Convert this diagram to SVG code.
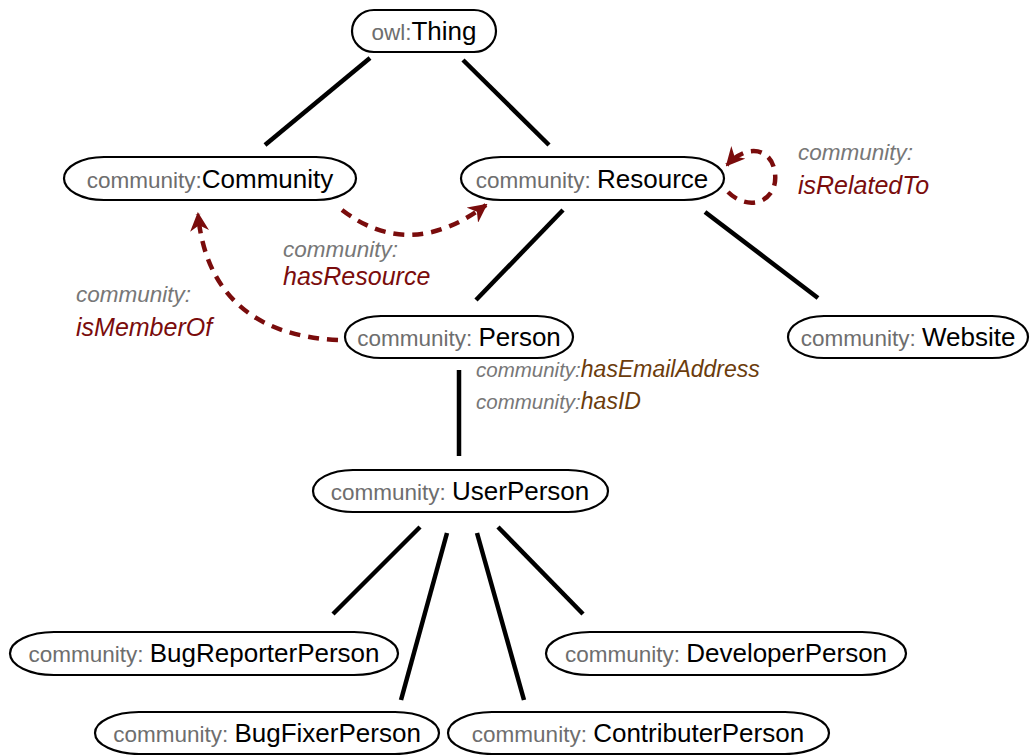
<svg xmlns="http://www.w3.org/2000/svg" width="1032" height="755" viewBox="0 0 1032 755">
<style>
.node rect{fill:#fff;stroke:#000;stroke-width:2.2}
.nt{font-family:"Liberation Sans",Arial,sans-serif;text-anchor:middle}
.pre{fill:#6e6e6e;font-size:22.5px}
.nm{fill:#000;font-size:26px}
.sub{stroke:#000;stroke-width:4.5;fill:none}
.obj{stroke:#7a0c0c;stroke-width:4.5;fill:none;stroke-dasharray:11 8}
.lp{font-family:"Liberation Sans",Arial,sans-serif;font-style:italic;fill:#777;font-size:22.5px}
.lr{font-family:"Liberation Sans",Arial,sans-serif;font-style:italic;fill:#7a0c0c;font-size:25px}
.dp{font-family:"Liberation Sans",Arial,sans-serif;font-style:italic;fill:#777;font-size:20.5px}
.dn{font-family:"Liberation Sans",Arial,sans-serif;font-style:italic;fill:#6b3c0c;font-size:23px}
</style>
<defs>
<marker id="ah" viewBox="0 0 10 10" refX="9" refY="5" markerWidth="4.2" markerHeight="4.2" orient="auto" markerUnits="strokeWidth">
<path d="M0,0 L10,5 L0,10 L3,5 z" fill="#7a0c0c"/>
</marker>
</defs>
<rect width="1032" height="755" fill="#fff"/>
<g id="connectors">
<line class="sub" x1="370" y1="58" x2="265" y2="145"/>
<line class="sub" x1="463" y1="60" x2="549" y2="145"/>
<line class="sub" x1="563" y1="210" x2="476" y2="300"/>
<line class="sub" x1="705" y1="212" x2="818" y2="298"/>
<line class="sub" x1="459" y1="370" x2="459" y2="456"/>
<line class="sub" x1="420" y1="527" x2="333" y2="614"/>
<line class="sub" x1="447" y1="533" x2="401" y2="700"/>
<line class="sub" x1="477" y1="533" x2="524" y2="700"/>
<line class="sub" x1="498" y1="527" x2="583" y2="614"/>
<path class="obj" d="M342,210 Q410,262 486,205" marker-end="url(#ah)"/>
<path class="obj" d="M338,340 C250,336 205,290 198,214" marker-end="url(#ah)"/>
<path class="obj" d="M728,192 C750,214 782,200 774,168 C768,146 744,146 727,165" marker-end="url(#ah)"/>
<text class="lp" x="798" y="160">community:</text>
<text class="lr" x="798" y="194">isRelatedTo</text>
<text class="lp" x="283" y="257">community:</text>
<text class="lr" x="283" y="285">hasResource</text>
<text class="lp" x="76" y="302">community:</text>
<text class="lr" x="76" y="336">isMemberOf</text>
<text x="476" y="377"><tspan class="dp">community:</tspan><tspan class="dn">hasEmailAddress</tspan></text>
<text x="476" y="409"><tspan class="dp">community:</tspan><tspan class="dn">hasID</tspan></text>
</g>
<g id="thing" class="node"><rect x="352" y="10" width="144" height="42" rx="22" ry="21"/><text class="nt" x="424" y="40"><tspan class="pre">owl:</tspan><tspan class="nm">Thing</tspan></text></g>
<g id="community" class="node"><rect x="64" y="157" width="292" height="43" rx="40" ry="21.5"/><text class="nt" x="210" y="188"><tspan class="pre">community:</tspan><tspan class="nm">Community</tspan></text></g>
<g id="resource" class="node"><rect x="461" y="157" width="263" height="43" rx="40" ry="21.5"/><text class="nt" x="592" y="188"><tspan class="pre">community: </tspan><tspan class="nm">Resource</tspan></text></g>
<g id="person" class="node"><rect x="345" y="316" width="228" height="42" rx="36" ry="21"/><text class="nt" x="459" y="346"><tspan class="pre">community: </tspan><tspan class="nm">Person</tspan></text></g>
<g id="website" class="node"><rect x="788" y="316" width="240" height="42" rx="36" ry="21"/><text class="nt" x="908" y="346"><tspan class="pre">community: </tspan><tspan class="nm">Website</tspan></text></g>
<g id="userperson" class="node"><rect x="313" y="470" width="295" height="42" rx="40" ry="21"/><text class="nt" x="460" y="500"><tspan class="pre">community: </tspan><tspan class="nm">UserPerson</tspan></text></g>
<g id="bugreporter" class="node"><rect x="10" y="632" width="388" height="43" rx="44" ry="21.5"/><text class="nt" x="204" y="662"><tspan class="pre">community: </tspan><tspan class="nm">BugReporterPerson</tspan></text></g>
<g id="developer" class="node"><rect x="546" y="632" width="360" height="43" rx="44" ry="21.5"/><text class="nt" x="726" y="662"><tspan class="pre">community: </tspan><tspan class="nm">DeveloperPerson</tspan></text></g>
<g id="bugfixer" class="node"><rect x="95" y="712" width="344" height="42" rx="44" ry="21"/><text class="nt" x="267" y="742"><tspan class="pre">community: </tspan><tspan class="nm">BugFixerPerson</tspan></text></g>
<g id="contributer" class="node"><rect x="448" y="712" width="381" height="42" rx="44" ry="21"/><text class="nt" x="638" y="742"><tspan class="pre">community: </tspan><tspan class="nm">ContributerPerson</tspan></text></g>
</svg>
